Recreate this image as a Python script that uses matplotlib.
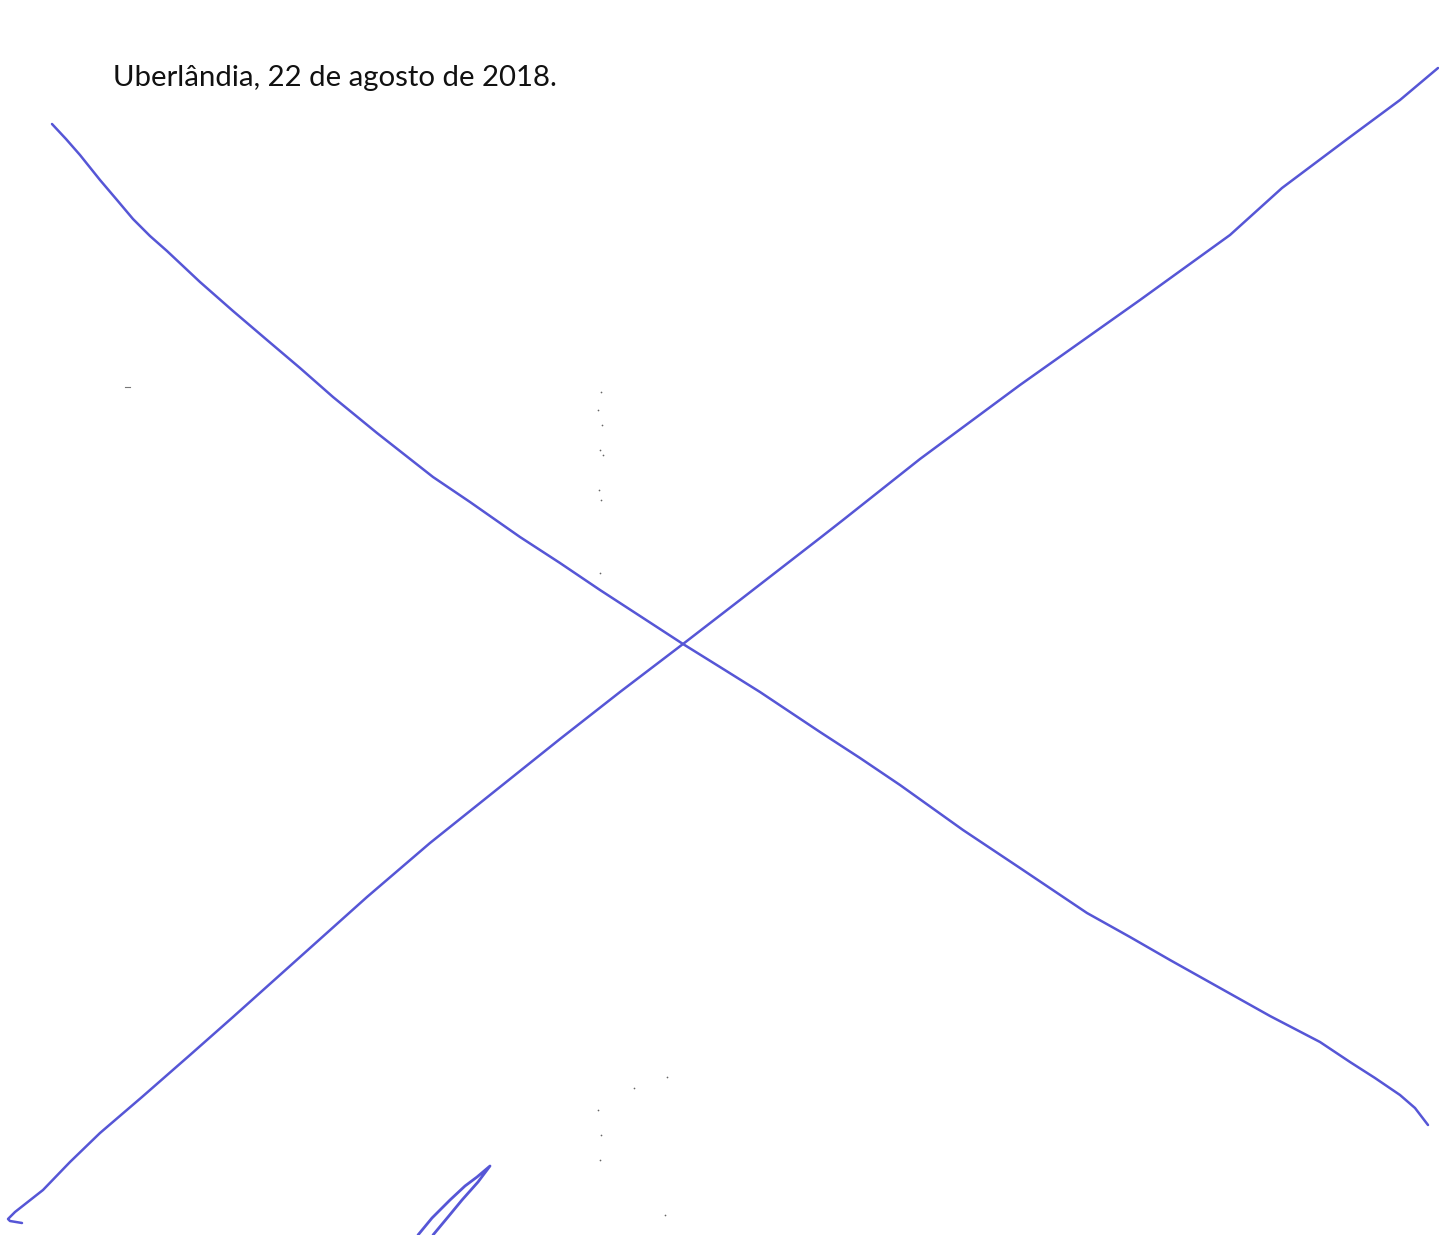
import matplotlib
matplotlib.use("Agg")
import matplotlib.pyplot as plt

W, H = 1439, 1235

# Stroke 1 (descending, top-left to bottom-right), pixel coordinates
stroke1_x = [52, 66, 80, 100, 117, 133, 150, 167, 200, 233, 267, 300, 333, 377, 433, 470,
             520, 560, 600, 640, 683, 720, 760, 820, 860, 900, 963, 1020, 1087, 1130, 1170,
             1220, 1270, 1320, 1350, 1375, 1400, 1415, 1428]
stroke1_y = [124, 139, 155, 180, 200, 219, 236, 251, 282, 311, 340, 368, 397, 433, 477, 502,
             537, 563, 590, 616, 644, 667, 692, 732, 758, 785, 830, 868, 913, 937, 960,
             988, 1016, 1042, 1062, 1078, 1095, 1108, 1125]

# Stroke 2 (ascending, bottom-left to top-right)
stroke2_x = [22, 10, 8, 15, 43, 70, 100, 142, 190, 233, 300, 367, 430, 505, 560, 620, 683,
             740, 780, 820, 843, 920, 1020, 1140, 1230, 1282, 1350, 1400, 1438]
stroke2_y = [1223, 1221, 1219, 1212, 1190, 1162, 1133, 1097, 1055, 1017, 957, 897, 843, 783,
             739, 692, 644, 600, 569, 538, 520, 459, 385, 300, 235, 188, 137, 100, 68]

# Small loop stroke at the bottom
stroke3_x = [418, 432, 450, 465, 477, 490, 478, 462, 448, 433]
stroke3_y = [1235, 1218, 1200, 1186, 1177, 1166, 1182, 1200, 1217, 1235]

# Scan specks
speck_x = [601, 598, 602, 600, 603, 599, 601, 600, 598, 601, 600, 667, 665, 634]
speck_y = [392, 410, 425, 450, 455, 490, 500, 573, 1110, 1135, 1160, 1077, 1215, 1088]

title = "Uberlândia, 22 de agosto de 2018."

ink = "#5656d6"

fig = plt.figure(figsize=(W / 100, H / 100), dpi=100)
ax = fig.add_axes([0, 0, 1, 1])
ax.set_xlim(0, W)
ax.set_ylim(H, 0)
ax.axis("off")

for xs, ys, lw in [(stroke1_x, stroke1_y, 1.8), (stroke2_x, stroke2_y, 1.8),
                   (stroke3_x, stroke3_y, 2.0)]:
    ax.plot(xs, ys, color=ink, lw=lw, solid_capstyle="round", solid_joinstyle="round")
ax.plot([125, 130], [387, 387], color="#777777", lw=0.8)
ax.scatter(speck_x, speck_y, s=1.5, color="#666666", linewidths=0)

ax.text(113, 86, title, fontsize=21.2, family=["Lato", "DejaVu Sans"],
        color="#111111", va="baseline", ha="left")

fig.savefig("out.png", dpi=100)
